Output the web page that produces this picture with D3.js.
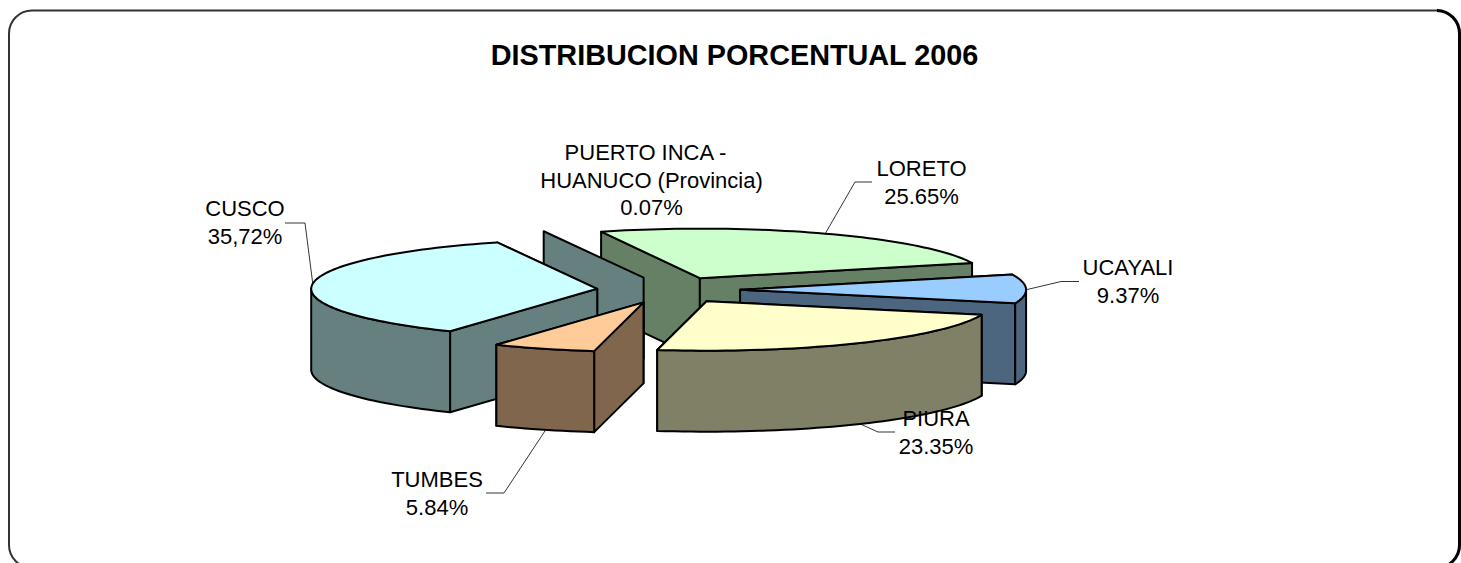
<!DOCTYPE html>
<html>
<head>
<meta charset="utf-8">
<script src="https://cdn.jsdelivr.net/npm/d3@7"></script>
<style>
  html, body { margin: 0; padding: 0; background: #fff; overflow: hidden; }
  svg { display: block; }
  text { font-family: "Liberation Sans", Arial, sans-serif; fill: #000; }
</style>
</head>
<body>
<svg id="chart" width="1461" height="563"></svg>
<script>
// data, in the order the slices run clockwise round the pie
const regions = ["LORETO", "UCAYALI", "PIURA", "TUMBES", "CUSCO", "PUERTO INCA - HUANUCO (Provincia)"];
const percents = [25.65, 9.37, 23.35, 5.84, 35.72, 0.07];
const percentLabels = ["25.65%", "9.37%", "23.35%", "5.84%", "35,72%", "0.07%"];
const topColors = ["#ccffcc", "#99ccff", "#ffffcc", "#ffcc99", "#ccffff", "#ccffff"];
const wallColors = ["#668066", "#4d6680", "#808066", "#80664d", "#668080", "#668080"];
const chartTitle = "DISTRIBUCION PORCENTUAL 2006";

// pie geometry
const centerX = 668.5, centerY = 290;
const radiusX = 286, radiusY = 49.5;
const explodeX = 71.6, explodeY = 13.2;
const depth = 81;
const firstAngle = 339.8 * Math.PI / 180;

// label text lines and where they sit, same order as regions
const labelLines = [["LORETO"], ["UCAYALI"], ["PIURA"], ["TUMBES"], ["CUSCO"], ["PUERTO INCA -", "HUANUCO (Provincia)"]];
const labelX = [921.5, 1128, 936, 437, 245, 651.5];
const labelY = [176, 275, 426, 487, 216, 160];
const leaderBend = [[872, 182, 855, 182], [1079, 281.5, 1061, 281.5], [895, 432, 878, 432], [486, 493, 504, 493], [285, 223, 305, 223], null];
const leaderAngle = [26, 90, 147.5, 200, 276, null]; // degrees clockwise from top, where the leader hits the rim

const svg = d3.select("#chart");

// frame
svg.append("rect")
    .attr("x", 9).attr("y", 10.5)
    .attr("width", 1450.5).attr("height", 557.5)
    .attr("rx", 23).attr("ry", 23)
    .attr("fill", "#fff")
    .attr("stroke", "#333")
    .attr("stroke-width", 2);

// right side of the frame is heavier
svg.append("path")
    .attr("d", "M1437,10.5A23,23 0 0 1 1459.5,33.5V545A23,23 0 0 1 1436.5,568")
    .attr("fill", "none")
    .attr("stroke", "#000")
    .attr("stroke-width", 3);

svg.append("text")
    .attr("x", 734.5).attr("y", 65)
    .attr("text-anchor", "middle")
    .style("font-size", "28.8px")
    .style("font-weight", "bold")
    .text(chartTitle);

const pie = d3.pie().sort(null).startAngle(firstAngle).endAngle(firstAngle + 2 * Math.PI);
const slices = pie(percents);

// flat pie -> screen, angle is clockwise from the top
const rimX = a => radiusX * Math.sin(a);
const rimY = a => -radiusY * Math.cos(a);

function apex(d) {
    const mid = (d.startAngle + d.endAngle) / 2;
    return [centerX + explodeX * Math.sin(mid), centerY - explodeY * Math.cos(mid)];
}

function rimPoints(d, a0, a1) {
    const [ax, ay] = apex(d);
    const steps = Math.max(1, Math.ceil((a1 - a0) / 0.03));
    return d3.range(steps + 1).map(i => {
        const a = a0 + (a1 - a0) * i / steps;
        return [ax + rimX(a), ay + rimY(a)];
    });
}

const line = d3.line();
const closed = pts => line(pts) + "Z";
const drop = pts => pts.map(p => [p[0], p[1] + depth]);

// drawn back to front so nearer slices hide the ones behind
const drawOrder = [0, 5, 4, 1, 2, 3];

const sliceGroups = svg.append("g")
    .selectAll("g")
    .data(drawOrder)
    .join("g")
    .attr("stroke", "#000")
    .attr("stroke-width", 2)
    .attr("stroke-linejoin", "round");

sliceGroups.each(function (i) {
    const d = slices[i];
    const g = d3.select(this);
    const a = apex(d);
    const p0 = rimPoints(d, d.startAngle, d.startAngle)[0];
    const p1 = rimPoints(d, d.endAngle, d.endAngle)[0];

    // a sliver this thin is just one wall, no top to see
    const sliver = d.endAngle - d.startAngle < 0.01;

    // the two cut walls, the one further back first
    const walls = sliver ? [p0] : [p0, p1].sort((m, n) => m[1] - n[1]);
    walls.forEach(p => {
        g.append("path")
            .attr("d", closed([a, p, [p[0], p[1] + depth], [a[0], a[1] + depth]]))
            .attr("fill", wallColors[i]);
    });

    // outer side, only the part that faces the viewer (90deg to 270deg, also one turn on)
    [0, 2 * Math.PI].forEach(turn => {
        const from = Math.max(d.startAngle, Math.PI / 2 + turn);
        const to = Math.min(d.endAngle, 3 * Math.PI / 2 + turn);
        if (to > from) {
            const rim = rimPoints(d, from, to);
            g.append("path")
                .attr("d", closed(rim.concat(drop(rim).reverse())))
                .attr("fill", wallColors[i]);
        }
    });

    // top
    if (!sliver) {
        g.append("path")
            .attr("d", closed([a].concat(rimPoints(d, d.startAngle, d.endAngle))))
            .attr("fill", topColors[i]);
    }
});

// leader lines run from the label to the rim of their slice
regions.forEach((r, i) => {
    if (!leaderBend[i]) return;
    const d = slices[i];
    const a = apex(d);
    const rad = leaderAngle[i] * Math.PI / 180;
    const below = leaderAngle[i] > 90 && leaderAngle[i] < 270 ? depth : 0;
    const b = leaderBend[i];
    svg.append("path")
        .attr("d", line([[b[0], b[1]], [b[2], b[3]], [a[0] + rimX(rad), a[1] + rimY(rad) + below]]))
        .attr("fill", "none")
        .attr("stroke", "#000")
        .attr("stroke-width", 0.8);
});

// labels
const labels = svg.append("g")
    .selectAll("text")
    .data(regions)
    .join("text")
    .attr("text-anchor", "middle")
    .attr("transform", (d, i) => `translate(${labelX[i]},${labelY[i]})`)
    .style("font-size", "22px");

labels.each(function (r, i) {
    const t = d3.select(this);
    labelLines[i].concat(percentLabels[i]).forEach((txt, k) => {
        // first line of the wrapped label sits a bit left, it was centred with its trailing space
        const shift = labelLines[i].length > 1 && k === 0 ? -6 : 0;
        t.append("tspan").attr("x", shift).attr("y", k * 27.7).text(txt);
    });
});
</script>
</body>
</html>
